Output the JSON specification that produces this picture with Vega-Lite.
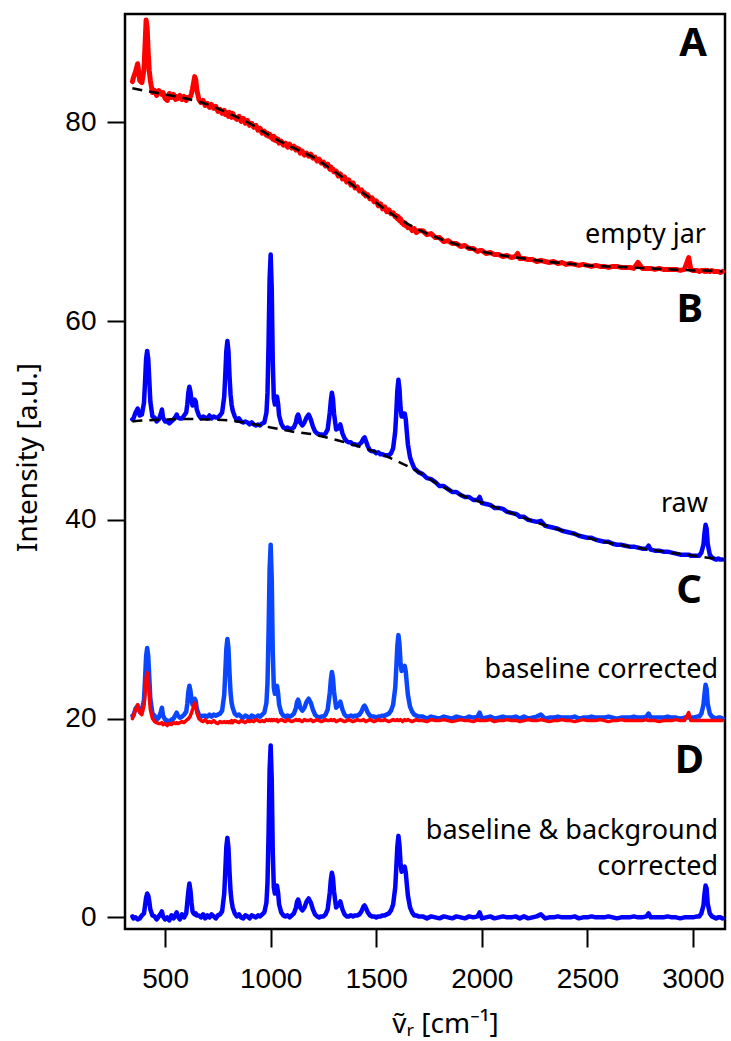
{
"$schema":"https://vega.github.io/schema/vega-lite/v6.json",
"width":600,"height":915,"autosize":"none",
"padding":{"left":125,"top":14,"right":6,"bottom":112},
"background":"white",
"config":{"view":{"stroke":"black","strokeWidth":2.5},
"axis":{"grid":false,"domain":false,"ticks":true,"tickColor":"black","tickWidth":2,"tickSize":18,"labelFont":"Liberation Sans","labelFontSize":28,"labelColor":"black","titleColor":"black","titleFontWeight":"normal","titleFont":"Noto Sans"},
"line":{"strokeJoin":"round","strokeCap":"round"}},
"datasets":{
"s":[
{"x":345,"a":84.1,"b":50.1,"c":20.3,"r":20.0,"d":0.1},
{"x":350,"a":84.5,"b":50.2,"c":20.3,"r":20.3,"d":-0.1},
{"x":360,"a":85.1,"b":50.8,"c":21.0,"r":20.9,"d":0.0},
{"x":370,"a":85.9,"b":51.2,"c":21.3,"r":21.4,"d":-0.2},
{"x":380,"a":84.2,"b":50.5,"c":20.7,"r":20.6,"d":-0.1},
{"x":390,"a":84.0,"b":50.6,"c":20.8,"r":20.4,"d":0.2},
{"x":400,"a":85.3,"b":51.8,"c":21.9,"r":21.3,"d":0.4},
{"x":405,"a":87.8,"b":53.9,"c":24.0,"r":22.5,"d":1.2},
{"x":410,"a":90.3,"b":56.2,"c":26.3,"r":24.1,"d":2.0},
{"x":415,"a":89.5,"b":57.0,"c":27.1,"r":24.6,"d":2.4},
{"x":420,"a":87.0,"b":56.2,"c":26.3,"r":24.0,"d":2.2},
{"x":425,"a":85.2,"b":54.1,"c":24.2,"r":22.2,"d":1.6},
{"x":430,"a":84.2,"b":51.9,"c":22.0,"r":20.9,"d":0.8},
{"x":440,"a":83.0,"b":50.4,"c":20.5,"r":20.0,"d":0.2},
{"x":450,"a":83.2,"b":50.3,"c":20.3,"r":19.7,"d":0.1},
{"x":460,"a":82.7,"b":49.9,"c":19.9,"r":19.6,"d":-0.2},
{"x":470,"a":83.2,"b":50.1,"c":20.1,"r":19.5,"d":0.1},
{"x":480,"a":83.0,"b":50.7,"c":20.7,"r":19.5,"d":0.4},
{"x":485,"a":82.8,"b":51.1,"c":21.1,"r":19.6,"d":0.6},
{"x":490,"a":83.0,"b":50.3,"c":20.3,"r":19.4,"d":0.1},
{"x":500,"a":82.4,"b":49.9,"c":19.9,"r":19.5,"d":-0.2},
{"x":510,"a":82.2,"b":49.9,"c":19.8,"r":19.3,"d":0.0},
{"x":520,"a":82.9,"b":49.7,"c":19.7,"r":19.5,"d":-0.3},
{"x":530,"a":82.5,"b":49.9,"c":19.9,"r":19.4,"d":0.2},
{"x":540,"a":82.8,"b":50.1,"c":20.0,"r":19.6,"d":-0.1},
{"x":550,"a":82.3,"b":50.4,"c":20.4,"r":19.5,"d":0.3},
{"x":555,"a":82.6,"b":50.6,"c":20.6,"r":19.6,"d":0.5},
{"x":560,"a":82.4,"b":50.3,"c":20.3,"r":19.5,"d":0.1},
{"x":570,"a":82.7,"b":50.2,"c":20.1,"r":19.6,"d":-0.2},
{"x":580,"a":82.3,"b":50.2,"c":20.2,"r":19.7,"d":0.3},
{"x":590,"a":82.6,"b":50.5,"c":20.4,"r":19.6,"d":0.0},
{"x":600,"a":82.2,"b":50.8,"c":20.7,"r":19.8,"d":0.4},
{"x":605,"a":82.5,"b":51.6,"c":21.5,"r":19.9,"d":1.5},
{"x":610,"a":82.4,"b":52.8,"c":22.7,"r":20.0,"d":2.6},
{"x":615,"a":82.5,"b":53.4,"c":23.3,"r":20.1,"d":3.4},
{"x":620,"a":82.6,"b":52.9,"c":22.8,"r":20.3,"d":2.7},
{"x":625,"a":82.9,"b":52.0,"c":21.9,"r":20.6,"d":1.5},
{"x":630,"a":83.4,"b":51.5,"c":21.4,"r":20.9,"d":0.6},
{"x":635,"a":84.0,"b":51.8,"c":21.7,"r":21.2,"d":0.4},
{"x":640,"a":84.6,"b":52.1,"c":22.0,"r":21.6,"d":0.3},
{"x":645,"a":84.3,"b":51.9,"c":21.8,"r":21.4,"d":0.4},
{"x":650,"a":83.3,"b":51.1,"c":21.0,"r":20.6,"d":0.2},
{"x":660,"a":82.3,"b":50.5,"c":20.4,"r":20.0,"d":0.2},
{"x":670,"a":82.0,"b":50.2,"c":20.2,"r":19.8,"d":0.0},
{"x":680,"a":82.2,"b":50.4,"c":20.3,"r":19.7,"d":0.3},
{"x":690,"a":81.7,"b":50.3,"c":20.3,"r":19.9,"d":-0.1},
{"x":700,"a":81.9,"b":50.2,"c":20.2,"r":19.6,"d":0.2},
{"x":710,"a":81.5,"b":50.5,"c":20.4,"r":19.7,"d":0.0},
{"x":720,"a":81.8,"b":50.2,"c":20.2,"r":19.6,"d":0.3},
{"x":730,"a":81.4,"b":50.4,"c":20.4,"r":19.8,"d":0.1},
{"x":740,"a":81.6,"b":50.3,"c":20.3,"r":19.6,"d":-0.1},
{"x":750,"a":81.1,"b":50.3,"c":20.4,"r":19.5,"d":0.2},
{"x":760,"a":81.3,"b":50.5,"c":20.5,"r":19.7,"d":0.3},
{"x":770,"a":80.9,"b":50.8,"c":20.8,"r":19.6,"d":0.6},
{"x":780,"a":81.2,"b":52.4,"c":22.4,"r":19.7,"d":2.4},
{"x":785,"a":80.8,"b":54.6,"c":24.6,"r":19.6,"d":4.6},
{"x":790,"a":81.0,"b":57.0,"c":27.0,"r":19.6,"d":7.1},
{"x":795,"a":80.8,"b":58.0,"c":28.0,"r":19.7,"d":8.0},
{"x":800,"a":80.6,"b":57.0,"c":27.1,"r":19.6,"d":7.0},
{"x":805,"a":81.0,"b":54.5,"c":24.6,"r":19.7,"d":4.6},
{"x":810,"a":80.7,"b":52.6,"c":22.6,"r":19.6,"d":2.6},
{"x":815,"a":80.5,"b":51.6,"c":21.6,"r":19.8,"d":1.6},
{"x":820,"a":80.9,"b":51.0,"c":21.1,"r":19.6,"d":1.0},
{"x":830,"a":80.5,"b":50.4,"c":20.5,"r":19.8,"d":0.4},
{"x":840,"a":80.3,"b":50.0,"c":20.3,"r":19.7,"d":0.1},
{"x":850,"a":80.6,"b":50.2,"c":20.4,"r":19.6,"d":0.3},
{"x":860,"a":80.1,"b":49.9,"c":20.2,"r":19.8,"d":0.0},
{"x":870,"a":80.4,"b":49.8,"c":20.1,"r":19.7,"d":-0.1},
{"x":880,"a":79.9,"b":49.9,"c":20.3,"r":19.6,"d":0.2},
{"x":890,"a":80.2,"b":49.8,"c":20.2,"r":19.8,"d":0.1},
{"x":900,"a":79.7,"b":49.6,"c":20.0,"r":19.7,"d":-0.1},
{"x":910,"a":79.9,"b":49.8,"c":20.3,"r":19.8,"d":0.2},
{"x":920,"a":79.5,"b":49.6,"c":20.2,"r":19.7,"d":0.1},
{"x":930,"a":79.7,"b":49.5,"c":20.1,"r":19.9,"d":0.0},
{"x":940,"a":79.2,"b":49.6,"c":20.3,"r":19.8,"d":0.2},
{"x":950,"a":79.4,"b":49.5,"c":20.2,"r":19.7,"d":0.1},
{"x":960,"a":78.9,"b":49.7,"c":20.4,"r":19.8,"d":0.3},
{"x":970,"a":79.1,"b":49.8,"c":20.6,"r":19.7,"d":0.5},
{"x":980,"a":78.7,"b":50.8,"c":21.6,"r":19.9,"d":1.5},
{"x":985,"a":78.9,"b":52.8,"c":23.6,"r":19.8,"d":3.5},
{"x":990,"a":78.6,"b":57.8,"c":28.6,"r":19.8,"d":8.4},
{"x":995,"a":78.8,"b":64.3,"c":35.1,"r":19.9,"d":14.9},
{"x":1000,"a":78.5,"b":66.7,"c":37.5,"r":19.8,"d":17.3},
{"x":1005,"a":78.6,"b":63.3,"c":34.1,"r":19.9,"d":13.9},
{"x":1010,"a":78.3,"b":55.8,"c":26.6,"r":19.8,"d":6.5},
{"x":1015,"a":78.6,"b":52.2,"c":23.1,"r":19.9,"d":3.0},
{"x":1020,"a":78.2,"b":51.6,"c":22.5,"r":19.8,"d":2.4},
{"x":1025,"a":78.4,"b":52.1,"c":23.0,"r":19.8,"d":2.9},
{"x":1030,"a":78.1,"b":52.4,"c":23.3,"r":19.9,"d":3.2},
{"x":1035,"a":78.3,"b":51.7,"c":22.6,"r":19.7,"d":2.5},
{"x":1040,"a":77.9,"b":50.5,"c":21.4,"r":19.8,"d":1.3},
{"x":1050,"a":78.1,"b":49.7,"c":20.6,"r":19.9,"d":0.5},
{"x":1060,"a":77.7,"b":49.3,"c":20.3,"r":19.8,"d":0.2},
{"x":1070,"a":77.9,"b":49.2,"c":20.2,"r":19.7,"d":0.1},
{"x":1080,"a":77.5,"b":49.3,"c":20.3,"r":19.9,"d":0.2},
{"x":1090,"a":77.8,"b":49.1,"c":20.2,"r":19.8,"d":0.0},
{"x":1100,"a":77.4,"b":49.2,"c":20.3,"r":19.7,"d":0.2},
{"x":1110,"a":77.6,"b":49.3,"c":20.5,"r":19.8,"d":0.4},
{"x":1120,"a":77.2,"b":49.8,"c":21.1,"r":19.9,"d":1.0},
{"x":1125,"a":77.4,"b":50.4,"c":21.7,"r":19.8,"d":1.6},
{"x":1130,"a":77.2,"b":50.6,"c":21.9,"r":19.8,"d":1.8},
{"x":1135,"a":77.3,"b":50.3,"c":21.6,"r":19.9,"d":1.5},
{"x":1140,"a":76.9,"b":49.8,"c":21.1,"r":19.8,"d":1.0},
{"x":1150,"a":77.1,"b":49.5,"c":20.8,"r":19.7,"d":0.7},
{"x":1160,"a":76.7,"b":49.8,"c":21.1,"r":19.9,"d":1.0},
{"x":1170,"a":76.9,"b":50.3,"c":21.7,"r":19.8,"d":1.6},
{"x":1180,"a":76.6,"b":50.6,"c":22.0,"r":19.8,"d":1.9},
{"x":1190,"a":76.8,"b":50.1,"c":21.6,"r":19.9,"d":1.5},
{"x":1200,"a":76.4,"b":49.4,"c":20.9,"r":19.7,"d":0.8},
{"x":1210,"a":76.5,"b":48.9,"c":20.4,"r":19.8,"d":0.3},
{"x":1220,"a":76.1,"b":48.7,"c":20.2,"r":19.9,"d":0.1},
{"x":1230,"a":76.3,"b":48.6,"c":20.1,"r":19.8,"d":0.0},
{"x":1240,"a":75.9,"b":48.6,"c":20.2,"r":19.7,"d":0.1},
{"x":1250,"a":76.0,"b":48.5,"c":20.2,"r":19.8,"d":0.1},
{"x":1260,"a":75.6,"b":48.7,"c":20.4,"r":19.9,"d":0.3},
{"x":1270,"a":75.8,"b":49.1,"c":20.9,"r":19.8,"d":0.8},
{"x":1280,"a":75.3,"b":50.8,"c":22.6,"r":19.8,"d":2.5},
{"x":1285,"a":75.5,"b":52.0,"c":23.9,"r":19.9,"d":3.8},
{"x":1290,"a":75.2,"b":52.8,"c":24.7,"r":19.8,"d":4.5},
{"x":1295,"a":75.3,"b":52.2,"c":24.1,"r":19.8,"d":4.0},
{"x":1300,"a":75.0,"b":50.7,"c":22.7,"r":19.9,"d":2.6},
{"x":1310,"a":75.1,"b":49.1,"c":21.1,"r":19.7,"d":1.0},
{"x":1320,"a":74.6,"b":49.2,"c":21.3,"r":19.8,"d":1.2},
{"x":1330,"a":74.8,"b":49.6,"c":21.7,"r":19.9,"d":1.6},
{"x":1340,"a":74.3,"b":48.7,"c":20.9,"r":19.8,"d":0.8},
{"x":1350,"a":74.5,"b":48.2,"c":20.4,"r":19.7,"d":0.3},
{"x":1360,"a":74.0,"b":47.9,"c":20.2,"r":19.8,"d":0.1},
{"x":1370,"a":74.2,"b":47.8,"c":20.2,"r":19.9,"d":0.1},
{"x":1380,"a":73.7,"b":47.8,"c":20.3,"r":19.8,"d":0.2},
{"x":1390,"a":73.9,"b":47.6,"c":20.2,"r":19.7,"d":0.1},
{"x":1400,"a":73.4,"b":47.6,"c":20.3,"r":19.8,"d":0.2},
{"x":1410,"a":73.5,"b":47.5,"c":20.3,"r":19.9,"d":0.2},
{"x":1420,"a":73.1,"b":47.6,"c":20.4,"r":19.8,"d":0.3},
{"x":1430,"a":73.2,"b":47.8,"c":20.7,"r":19.8,"d":0.6},
{"x":1440,"a":72.8,"b":48.2,"c":21.2,"r":19.9,"d":1.1},
{"x":1445,"a":72.9,"b":48.3,"c":21.3,"r":19.8,"d":1.2},
{"x":1450,"a":72.6,"b":48.0,"c":21.1,"r":19.7,"d":1.0},
{"x":1460,"a":72.7,"b":47.4,"c":20.6,"r":19.8,"d":0.5},
{"x":1470,"a":72.3,"b":47.0,"c":20.3,"r":19.9,"d":0.2},
{"x":1480,"a":72.4,"b":46.9,"c":20.2,"r":19.8,"d":0.1},
{"x":1490,"a":72.0,"b":46.9,"c":20.2,"r":19.7,"d":0.1},
{"x":1500,"a":72.1,"b":46.7,"c":20.1,"r":19.8,"d":0.0},
{"x":1510,"a":71.6,"b":46.8,"c":20.2,"r":19.9,"d":0.1},
{"x":1520,"a":71.8,"b":46.6,"c":20.2,"r":19.8,"d":0.1},
{"x":1530,"a":71.3,"b":46.6,"c":20.3,"r":19.8,"d":0.2},
{"x":1540,"a":71.5,"b":46.5,"c":20.3,"r":19.9,"d":0.2},
{"x":1550,"a":71.0,"b":46.5,"c":20.4,"r":19.8,"d":0.3},
{"x":1560,"a":71.2,"b":46.5,"c":20.5,"r":19.7,"d":0.4},
{"x":1570,"a":70.8,"b":46.7,"c":20.8,"r":19.8,"d":0.7},
{"x":1580,"a":70.9,"b":47.2,"c":21.4,"r":19.9,"d":1.3},
{"x":1590,"a":70.5,"b":48.9,"c":23.1,"r":19.8,"d":3.0},
{"x":1595,"a":70.6,"b":50.8,"c":25.1,"r":19.8,"d":5.0},
{"x":1600,"a":70.3,"b":53.0,"c":27.3,"r":19.9,"d":7.1},
{"x":1605,"a":70.5,"b":54.1,"c":28.4,"r":19.8,"d":8.2},
{"x":1610,"a":70.1,"b":53.2,"c":27.5,"r":19.8,"d":7.3},
{"x":1615,"a":70.3,"b":51.3,"c":25.7,"r":19.9,"d":5.5},
{"x":1620,"a":69.9,"b":50.4,"c":24.8,"r":19.8,"d":4.6},
{"x":1625,"a":70.0,"b":50.4,"c":24.9,"r":19.7,"d":4.7},
{"x":1630,"a":69.7,"b":50.7,"c":25.2,"r":19.8,"d":5.0},
{"x":1635,"a":69.9,"b":50.7,"c":25.3,"r":19.9,"d":5.1},
{"x":1640,"a":69.6,"b":50.1,"c":24.7,"r":19.8,"d":4.5},
{"x":1645,"a":69.7,"b":48.8,"c":23.5,"r":19.8,"d":3.3},
{"x":1650,"a":69.4,"b":47.6,"c":22.4,"r":19.9,"d":2.2},
{"x":1660,"a":69.5,"b":46.3,"c":21.2,"r":19.8,"d":1.0},
{"x":1670,"a":69.1,"b":45.7,"c":20.7,"r":19.7,"d":0.5},
{"x":1680,"a":69.3,"b":45.2,"c":20.4,"r":19.8,"d":0.2},
{"x":1690,"a":68.9,"b":45.0,"c":20.3,"r":19.9,"d":0.2},
{"x":1700,"a":69.1,"b":44.8,"c":20.2,"r":19.8,"d":0.1},
{"x":1720,"a":69.1,"b":44.6,"c":20.2,"r":19.8,"d":0.1},
{"x":1740,"a":68.7,"b":44.2,"c":20.0,"r":19.7,"d":-0.1},
{"x":1760,"a":68.8,"b":44.1,"c":20.2,"r":19.9,"d":0.1},
{"x":1780,"a":68.4,"b":43.8,"c":20.1,"r":19.8,"d":0.0},
{"x":1800,"a":68.4,"b":43.4,"c":20.0,"r":19.8,"d":-0.1},
{"x":1820,"a":68.0,"b":43.4,"c":20.2,"r":19.9,"d":0.1},
{"x":1840,"a":68.1,"b":43.1,"c":20.1,"r":19.8,"d":0.0},
{"x":1860,"a":67.8,"b":42.8,"c":20.0,"r":19.7,"d":-0.1},
{"x":1880,"a":67.8,"b":42.8,"c":20.2,"r":19.8,"d":0.1},
{"x":1900,"a":67.5,"b":42.5,"c":20.1,"r":19.9,"d":0.0},
{"x":1920,"a":67.6,"b":42.3,"c":20.0,"r":19.8,"d":-0.1},
{"x":1940,"a":67.3,"b":42.3,"c":20.2,"r":19.8,"d":0.1},
{"x":1960,"a":67.3,"b":42.0,"c":20.1,"r":19.7,"d":0.0},
{"x":1980,"a":67.0,"b":42.0,"c":20.2,"r":19.9,"d":0.1},
{"x":1990,"a":67.1,"b":42.3,"c":20.6,"r":19.8,"d":0.5},
{"x":2000,"a":67.1,"b":41.7,"c":20.0,"r":19.8,"d":-0.1},
{"x":2020,"a":66.8,"b":41.6,"c":20.1,"r":19.8,"d":0.0},
{"x":2040,"a":66.9,"b":41.5,"c":20.2,"r":19.9,"d":0.1},
{"x":2060,"a":66.7,"b":41.2,"c":20.0,"r":19.7,"d":-0.1},
{"x":2080,"a":66.7,"b":41.2,"c":20.1,"r":19.8,"d":0.0},
{"x":2100,"a":66.5,"b":41.1,"c":20.2,"r":19.8,"d":0.1},
{"x":2120,"a":66.6,"b":40.8,"c":20.1,"r":19.9,"d":0.0},
{"x":2140,"a":66.4,"b":40.7,"c":20.1,"r":19.8,"d":0.0},
{"x":2160,"a":66.5,"b":40.6,"c":20.2,"r":19.8,"d":0.1},
{"x":2170,"a":66.8,"b":40.5,"c":20.1,"r":19.8,"d":0.0},
{"x":2180,"a":66.3,"b":40.3,"c":20.0,"r":19.7,"d":-0.1},
{"x":2200,"a":66.3,"b":40.3,"c":20.2,"r":19.8,"d":0.1},
{"x":2220,"a":66.2,"b":40.0,"c":20.0,"r":19.9,"d":-0.1},
{"x":2240,"a":66.2,"b":39.9,"c":20.1,"r":19.8,"d":0.0},
{"x":2260,"a":66.0,"b":39.8,"c":20.2,"r":19.8,"d":0.1},
{"x":2280,"a":66.1,"b":39.9,"c":20.4,"r":19.9,"d":0.3},
{"x":2300,"a":66.0,"b":39.4,"c":20.0,"r":19.8,"d":-0.1},
{"x":2320,"a":65.9,"b":39.3,"c":20.1,"r":19.7,"d":0.0},
{"x":2340,"a":66.0,"b":39.2,"c":20.1,"r":19.8,"d":0.0},
{"x":2360,"a":65.8,"b":39.1,"c":20.2,"r":19.8,"d":0.1},
{"x":2380,"a":65.9,"b":38.9,"c":20.1,"r":19.9,"d":0.0},
{"x":2400,"a":65.7,"b":38.8,"c":20.1,"r":19.8,"d":0.0},
{"x":2420,"a":65.8,"b":38.7,"c":20.1,"r":19.8,"d":0.0},
{"x":2440,"a":65.7,"b":38.6,"c":20.2,"r":19.7,"d":0.1},
{"x":2460,"a":65.6,"b":38.4,"c":20.0,"r":19.8,"d":-0.1},
{"x":2480,"a":65.7,"b":38.3,"c":20.1,"r":19.9,"d":0.0},
{"x":2500,"a":65.6,"b":38.2,"c":20.1,"r":19.8,"d":0.0},
{"x":2520,"a":65.5,"b":38.2,"c":20.2,"r":19.8,"d":0.1},
{"x":2540,"a":65.6,"b":38.0,"c":20.1,"r":19.8,"d":0.0},
{"x":2560,"a":65.5,"b":37.9,"c":20.1,"r":19.9,"d":0.0},
{"x":2580,"a":65.5,"b":37.8,"c":20.1,"r":19.8,"d":0.0},
{"x":2600,"a":65.4,"b":37.8,"c":20.2,"r":19.7,"d":0.1},
{"x":2620,"a":65.5,"b":37.6,"c":20.1,"r":19.8,"d":0.0},
{"x":2640,"a":65.5,"b":37.5,"c":20.0,"r":19.8,"d":-0.1},
{"x":2660,"a":65.4,"b":37.5,"c":20.1,"r":19.9,"d":0.0},
{"x":2680,"a":65.4,"b":37.4,"c":20.1,"r":19.8,"d":0.0},
{"x":2700,"a":65.4,"b":37.3,"c":20.1,"r":19.8,"d":0.0},
{"x":2720,"a":65.3,"b":37.3,"c":20.2,"r":19.8,"d":0.1},
{"x":2740,"a":65.9,"b":37.2,"c":20.1,"r":19.8,"d":0.0},
{"x":2760,"a":65.3,"b":37.1,"c":20.1,"r":19.8,"d":0.0},
{"x":2780,"a":65.3,"b":37.1,"c":20.2,"r":19.9,"d":0.1},
{"x":2790,"a":65.3,"b":37.4,"c":20.5,"r":19.8,"d":0.4},
{"x":2800,"a":65.3,"b":37.0,"c":20.1,"r":19.8,"d":0.0},
{"x":2820,"a":65.2,"b":36.9,"c":20.1,"r":19.8,"d":0.0},
{"x":2840,"a":65.3,"b":36.9,"c":20.1,"r":19.7,"d":0.0},
{"x":2860,"a":65.2,"b":36.8,"c":20.1,"r":19.8,"d":0.0},
{"x":2880,"a":65.2,"b":36.8,"c":20.2,"r":19.8,"d":0.1},
{"x":2900,"a":65.2,"b":36.7,"c":20.1,"r":19.8,"d":0.0},
{"x":2920,"a":65.2,"b":36.6,"c":20.1,"r":19.9,"d":0.0},
{"x":2940,"a":65.1,"b":36.5,"c":20.0,"r":19.8,"d":-0.1},
{"x":2960,"a":65.2,"b":36.5,"c":20.1,"r":19.8,"d":0.0},
{"x":2980,"a":66.4,"b":36.5,"c":20.1,"r":20.6,"d":0.0},
{"x":2990,"a":65.2,"b":36.4,"c":20.1,"r":19.8,"d":0.0},
{"x":3000,"a":65.1,"b":36.4,"c":20.1,"r":19.8,"d":0.0},
{"x":3020,"a":65.1,"b":36.4,"c":20.2,"r":19.8,"d":0.1},
{"x":3030,"a":65.0,"b":36.4,"c":20.2,"r":19.8,"d":0.1},
{"x":3040,"a":65.1,"b":36.7,"c":20.5,"r":19.8,"d":0.4},
{"x":3050,"a":65.1,"b":37.5,"c":21.4,"r":19.8,"d":1.2},
{"x":3055,"a":65.0,"b":38.7,"c":22.5,"r":19.8,"d":2.4},
{"x":3060,"a":65.1,"b":39.5,"c":23.4,"r":19.8,"d":3.2},
{"x":3065,"a":65.0,"b":39.1,"c":23.0,"r":19.8,"d":2.9},
{"x":3070,"a":65.1,"b":37.6,"c":21.5,"r":19.8,"d":1.4},
{"x":3080,"a":65.0,"b":36.5,"c":20.5,"r":19.8,"d":0.4},
{"x":3090,"a":65.1,"b":36.2,"c":20.2,"r":19.8,"d":0.1},
{"x":3100,"a":65.0,"b":36.1,"c":20.1,"r":19.8,"d":0.0},
{"x":3110,"a":65.0,"b":36.0,"c":20.0,"r":19.8,"d":-0.1},
{"x":3120,"a":65.0,"b":36.1,"c":20.1,"r":19.8,"d":0.0},
{"x":3130,"a":64.9,"b":36.0,"c":20.1,"r":19.8,"d":0.0},
{"x":3140,"a":65.0,"b":36.0,"c":20.0,"r":19.8,"d":-0.1}
],
"f":[
{"x":345,"af":83.43,"bf":49.9},{"x":400,"af":83.2,"bf":50.0},{"x":500,"af":82.8,"bf":50.1},{"x":600,"af":82.4,"bf":50.15},
{"x":700,"af":81.8,"bf":50.1},{"x":800,"af":80.9,"bf":50.0},{"x":900,"af":79.9,"bf":49.7},{"x":1000,"af":78.6,"bf":49.3},
{"x":1100,"af":77.5,"bf":48.9},{"x":1200,"af":76.5,"bf":48.6},{"x":1300,"af":75.1,"bf":48.1},{"x":1400,"af":73.5,"bf":47.5},
{"x":1500,"af":71.9,"bf":46.8},{"x":1600,"af":70.4,"bf":45.9},{"x":1700,"af":69.2,"bf":44.8},{"x":1800,"af":68.3,"bf":43.5},
{"x":1900,"af":67.6,"bf":42.5},{"x":2000,"af":67.0,"bf":41.75},{"x":2100,"af":66.6,"bf":41.0},{"x":2200,"af":66.3,"bf":40.2},
{"x":2300,"af":66.0,"bf":39.45},{"x":2400,"af":65.8,"bf":38.8},{"x":2500,"af":65.6,"bf":38.2},{"x":2600,"af":65.5,"bf":37.7},
{"x":2700,"af":65.4,"bf":37.3},{"x":2800,"af":65.3,"bf":37.0},{"x":2900,"af":65.2,"bf":36.7},{"x":3000,"af":65.1,"bf":36.4},
{"x":3100,"af":65.05,"bf":36.1},{"x":3140,"af":65.0,"bf":36.0}
],
"letters":[
{"x":3067,"y":86.67,"t":"A"},{"x":3048,"y":59.9,"t":"B"},{"x":3043,"y":31.6,"t":"C"},{"x":3053,"y":14.53,"t":"D"}
],
"notes":[
{"x":3062,"y":67.86,"t":"empty jar"},{"x":3071,"y":40.82,"t":"raw"},{"x":3119,"y":24.09,"t":"baseline corrected"},
{"x":3119,"y":7.9,"t":"baseline & background"},{"x":3119,"y":4.3,"t":"corrected"}
]
},
"encoding":{
"x":{"field":"x","type":"quantitative","scale":{"domain":[310,3152],"nice":false,"zero":false},
"axis":{"values":[500,1000,1500,2000,2500,3000],"format":"d","labelPadding":18,"title":"ṽᵣ [cm⁻¹]","titleFontSize":28,"titleX":320,"titleY":103,"titleAlign":"center","titleBaseline":"alphabetic"}}
},
"layer":[
{"data":{"name":"s"},"mark":{"type":"line","color":"#ff0000","strokeWidth":5},
"encoding":{"y":{"field":"a","type":"quantitative","scale":{"domain":[-1.17,90.9],"nice":false,"zero":false},
"axis":{"values":[0,20,40,60,80],"labelPadding":11,"title":"Intensity [a.u.]","titleFontSize":28,"titleX":-89,"titleY":443,"titleAlign":"center","titleBaseline":"alphabetic","titleAngle":270}}}},
{"data":{"name":"f"},"mark":{"type":"line","color":"black","strokeWidth":2.5,"strokeDash":[10,7],"interpolate":"monotone","strokeCap":"butt"},
"encoding":{"y":{"field":"af","type":"quantitative","scale":{"domain":[-1.17,90.9],"nice":false,"zero":false},"title":"Intensity [a.u.]"}}},
{"data":{"name":"s"},"mark":{"type":"line","color":"#0000ff","strokeWidth":4.5},
"encoding":{"y":{"field":"b","type":"quantitative","scale":{"domain":[-1.17,90.9],"nice":false,"zero":false},"title":"Intensity [a.u.]"}}},
{"data":{"name":"f"},"mark":{"type":"line","color":"black","strokeWidth":2.5,"strokeDash":[10,7],"interpolate":"monotone","strokeCap":"butt"},
"encoding":{"y":{"field":"bf","type":"quantitative","scale":{"domain":[-1.17,90.9],"nice":false,"zero":false},"title":"Intensity [a.u.]"}}},
{"data":{"name":"s"},"mark":{"type":"line","color":"#0a46ff","strokeWidth":4.5},
"encoding":{"y":{"field":"c","type":"quantitative","scale":{"domain":[-1.17,90.9],"nice":false,"zero":false},"title":"Intensity [a.u.]"}}},
{"data":{"name":"s"},"mark":{"type":"line","color":"#ff0000","strokeWidth":3.5},
"encoding":{"y":{"field":"r","type":"quantitative","scale":{"domain":[-1.17,90.9],"nice":false,"zero":false},"title":"Intensity [a.u.]"}}},
{"data":{"name":"s"},"mark":{"type":"line","color":"#0000ff","strokeWidth":4.5},
"encoding":{"y":{"field":"d","type":"quantitative","scale":{"domain":[-1.17,90.9],"nice":false,"zero":false},"title":"Intensity [a.u.]"}}},
{"data":{"name":"letters"},"mark":{"type":"text","align":"right","baseline":"alphabetic","font":"Noto Sans","fontWeight":"bold","fontSize":40,"color":"black"},
"encoding":{"y":{"field":"y","type":"quantitative","scale":{"domain":[-1.17,90.9],"nice":false,"zero":false},"title":"Intensity [a.u.]"},"text":{"field":"t"}}},
{"data":{"name":"notes"},"mark":{"type":"text","align":"right","baseline":"alphabetic","font":"Noto Sans","fontSize":27,"color":"black"},
"encoding":{"y":{"field":"y","type":"quantitative","scale":{"domain":[-1.17,90.9],"nice":false,"zero":false},"title":"Intensity [a.u.]"},"text":{"field":"t"}}}
]
}
